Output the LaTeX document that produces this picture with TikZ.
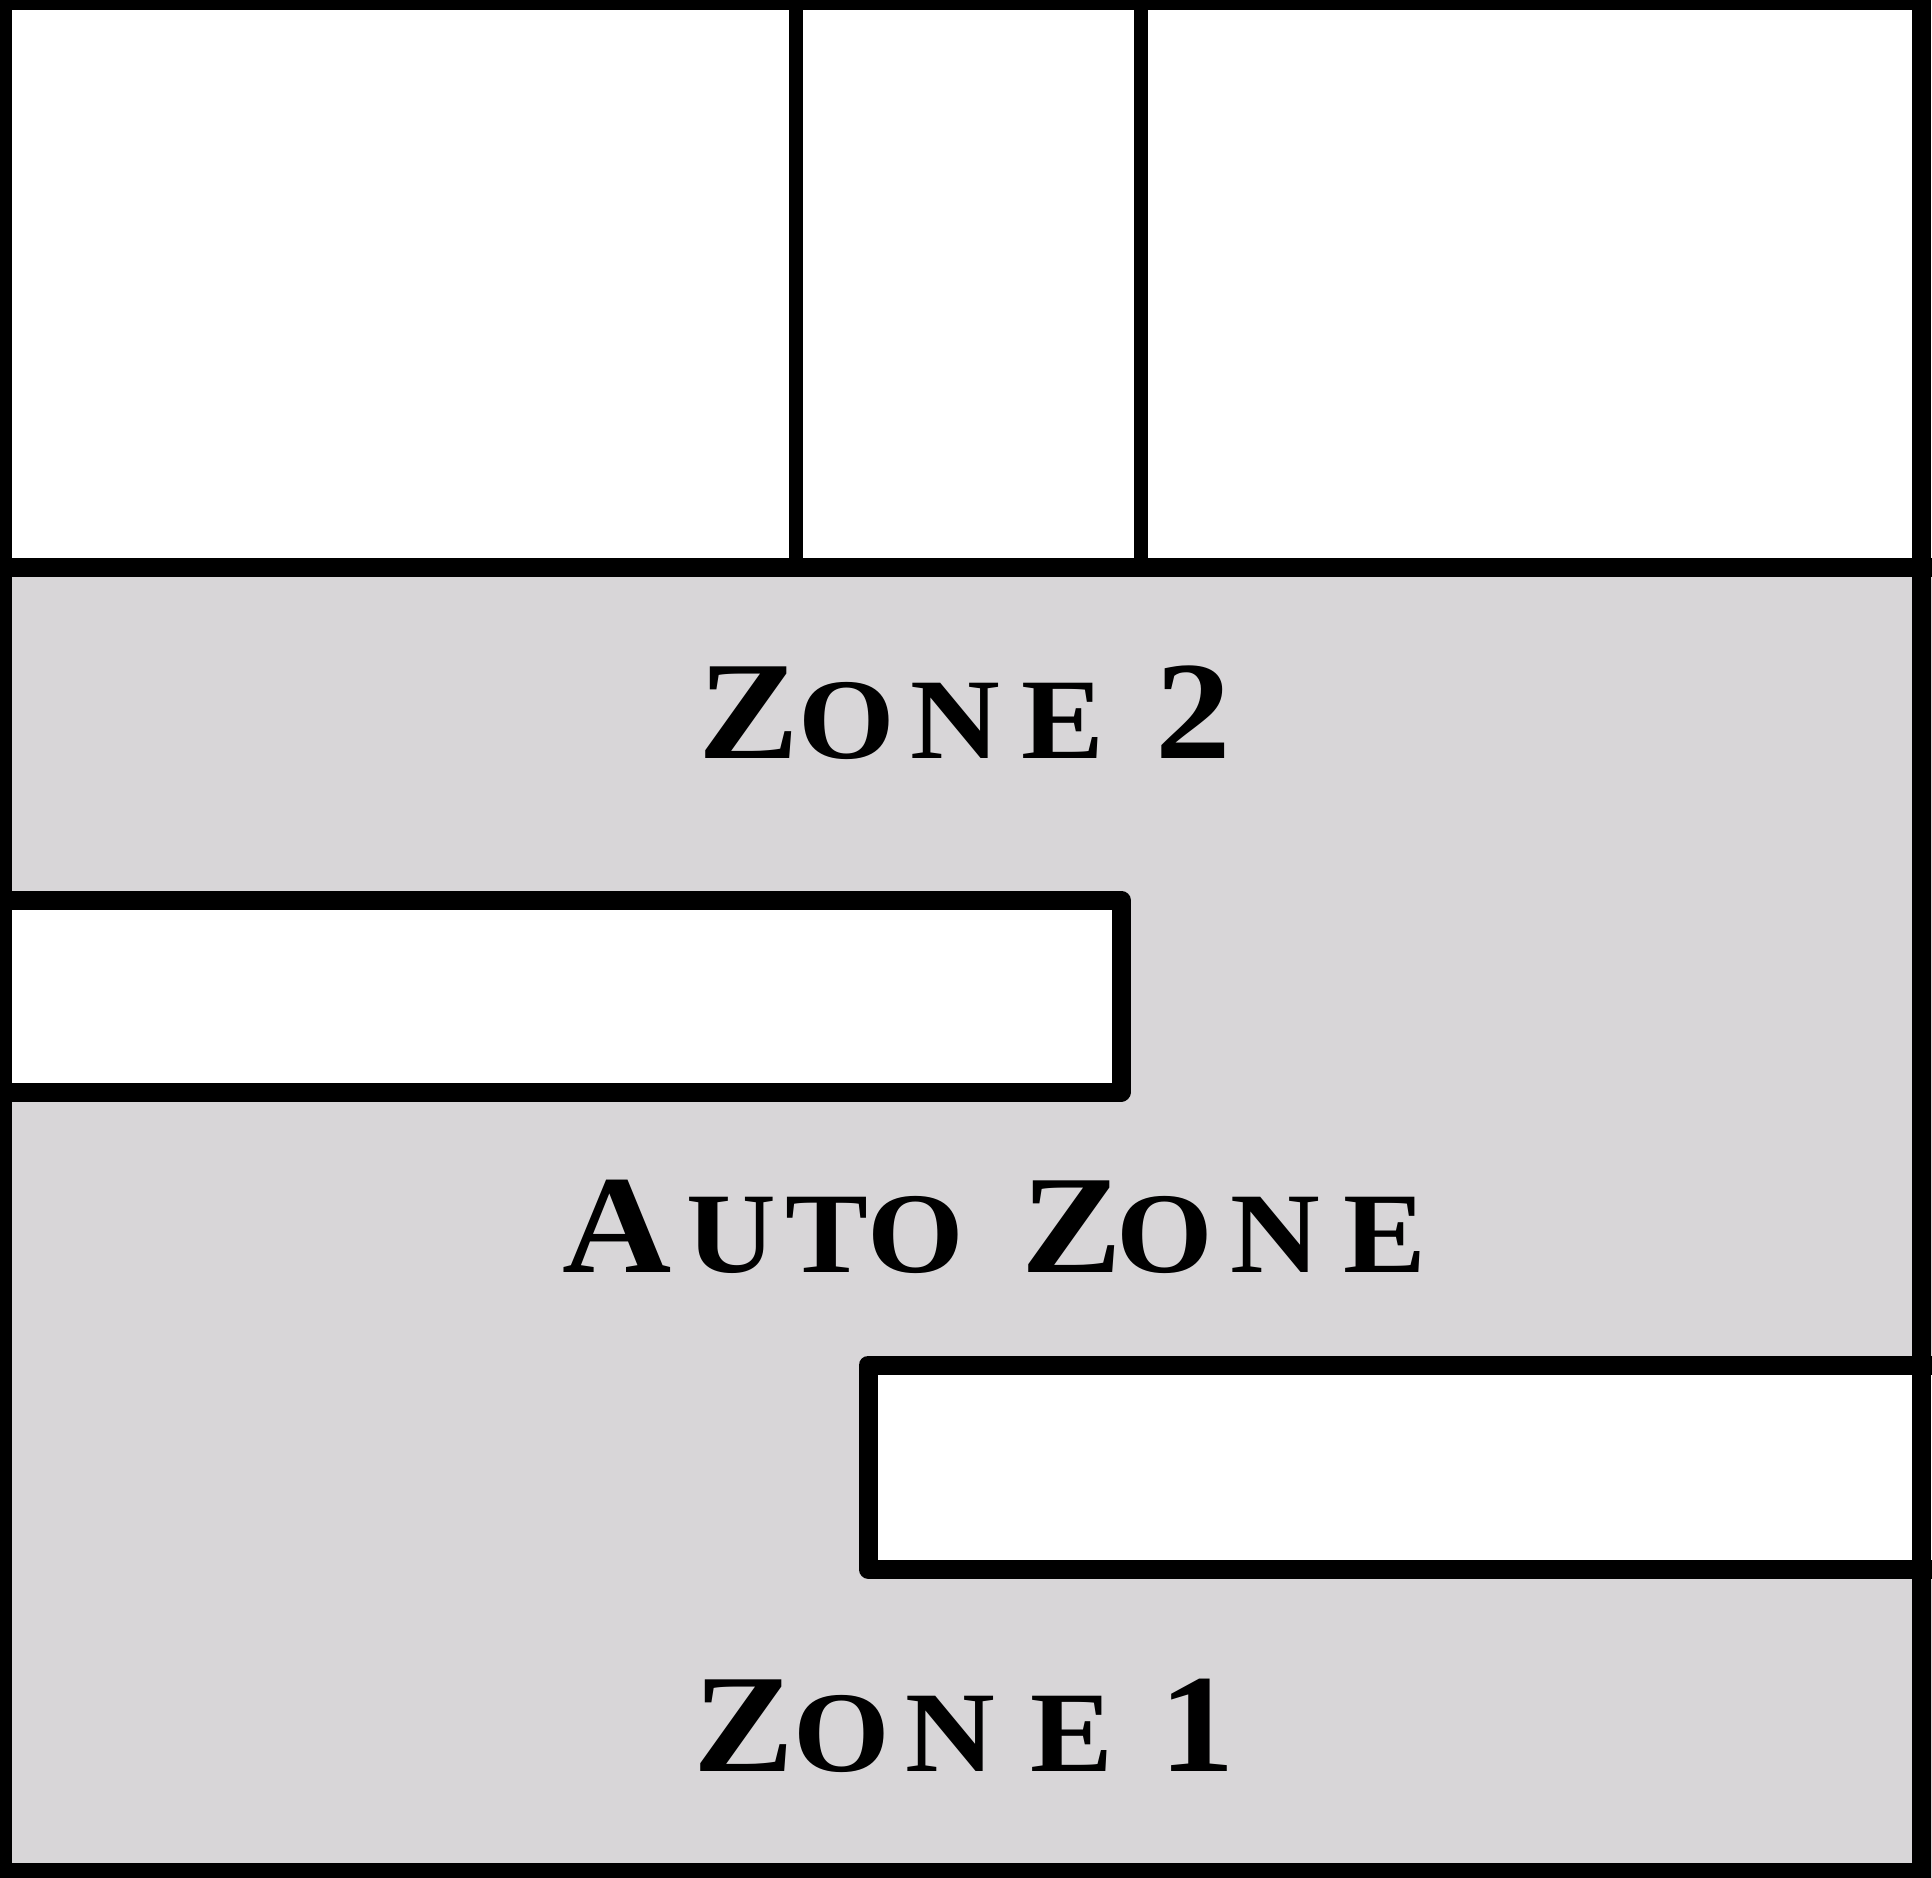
\documentclass[tikz,border=0pt]{standalone}
\usepackage{fontspec}
\setmainfont{Liberation Serif}[FakeStretch=1.08]
\definecolor{zonegray}{RGB}{216,214,216}
% letter in a box of given advance width (pt) at given size (pt)
\newcommand\zl[3]{\makebox[#1pt][l]{\fontsize{#2}{#2}\selectfont #3}}
\newcommand\zlast[2]{{\fontsize{#1}{#1}\selectfont #2}}
\tikzset{
  wall/.style={draw=black, line width=19pt, line join=round, line cap=round},
  thinwall/.style={draw=black, line width=14pt},
  zonelabel/.style={anchor=base west, inner sep=0pt, text=black, font=\bfseries}
}
\begin{document}
\begin{tikzpicture}[x=1pt,y=-1pt]
\useasboundingbox (0,0) rectangle (1932,1878);
\clip (0,0) rectangle (1932,1878);
% backgrounds
\fill[white] (0,0) rectangle (1932,1878);
\fill[zonegray] (0,567) rectangle (1932,1878);
% upper-left white block
\fill[white] (0,900) rectangle (1121,1092);
\draw[wall] (-20,900) -- (1121,900) -- (1121,1092) -- (-20,1092);
% lower-right white block
\fill[white] (868,1365) rectangle (1932,1569);
\draw[wall] (1950,1365) -- (868,1365) -- (868,1569) -- (1950,1569);
% top rooms
\draw[thinwall] (796,0) -- (796,567);
\draw[thinwall] (1141,0) -- (1141,567);
\draw[wall, line cap=butt] (-20,567) -- (1950,567);
% outer border
\draw[draw=black, line width=19pt] (2.5,0.5) rectangle (1921,1872.5);
% labels
\node[zonelabel] (z2) at (698,758) {\zl{100.5}{140}{Z}\zl{111.5}{115}{O}\zl{111}{115}{N}\zl{134.5}{115}{E}\zlast{140}{2}};
\node[zonelabel] (za) at (562.6,1272) {\zl{123.4}{140}{A}\zl{99}{115}{U}\zl{82.5}{115}{T}\zl{153.5}{115}{O}\zl{95.5}{140}{Z}\zl{113.5}{115}{O}\zl{113}{115}{N}\zlast{115}{E}};
\node[zonelabel] (z1) at (693,1771) {\zl{100.5}{140}{Z}\zl{111.5}{115}{O}\zl{125}{115}{N}\zl{129.3}{115}{E}\zlast{140}{1}};
\end{tikzpicture}
\end{document}
